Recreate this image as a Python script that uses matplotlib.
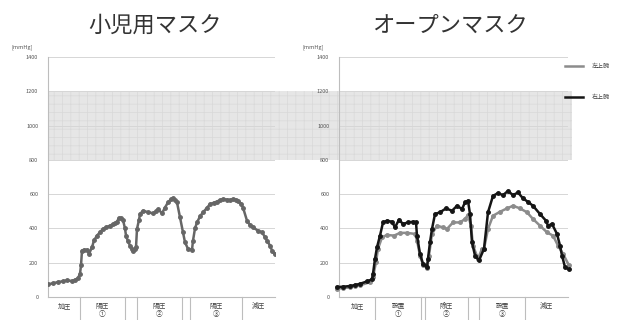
import matplotlib
matplotlib.use("Agg")
from matplotlib import pyplot as plt
from matplotlib.patches import Rectangle

plt.rcParams['font.family'] = ['Noto Sans CJK JP', 'DejaVu Sans']
plt.rcParams['hatch.linewidth'] = 0.5

# ---- data (time in arbitrary units, pressure in mmHg) ----
left_t = [0, 5, 10, 15, 19, 24, 27, 30, 32, 33, 34, 36, 39, 41, 44, 46, 49,
          52, 55, 58, 62, 65, 67, 69, 71, 73, 75, 77, 78, 80, 82, 84, 85, 87,
          88, 89, 91, 92, 95, 100, 105, 108, 110, 114, 117, 120, 123, 125,
          127, 129, 132, 135, 137, 140, 144, 145, 147, 149, 152, 155, 159,
          162, 166, 169, 172, 175, 179, 182, 185, 188, 190, 193, 195, 199,
          202, 205, 210, 214, 217, 219, 222, 224, 227]
left_p = [74, 80, 87, 92, 97, 93, 100, 110, 135, 184, 271, 275, 275, 252,
          290, 330, 358, 378, 397, 407, 416, 425, 430, 440, 461, 458, 449,
          400, 358, 325, 300, 280, 271, 280, 290, 397, 450, 484, 503, 495,
          488, 500, 513, 488, 522, 552, 570, 577, 565, 552, 465, 377, 319,
          281, 275, 329, 400, 435, 470, 494, 520, 542, 550, 557, 565, 571,
          568, 565, 571, 567, 561, 545, 522, 445, 420, 406, 387, 377, 350,
          329, 300, 271, 248]

right_t_black = [-2, 4, 11, 16, 21, 28, 33, 34, 36, 38, 41, 44, 48, 53, 56,
                 60, 64, 69, 74, 77, 78, 81, 84, 88, 89, 91, 93, 96, 101,
                 107, 113, 118, 123, 126, 129, 131, 133, 136, 140, 145, 149,
                 154, 159, 164, 169, 174, 179, 184, 189, 194, 201, 207, 209,
                 213, 218, 221, 223, 226, 230]
right_p_black = [58, 60, 64, 70, 77, 91, 103, 135, 223, 290, 358, 435, 445,
                 439, 406, 451, 426, 435, 439, 435, 358, 252, 194, 174, 223,
                 319, 397, 484, 494, 517, 503, 532, 513, 552, 561, 484, 319,
                 242, 213, 281, 494, 590, 606, 594, 619, 594, 610, 575, 555,
                 532, 484, 445, 416, 426, 368, 300, 242, 174, 161]

right_t_gray = [-2, 4, 11, 16, 21, 31, 34, 37, 39, 43, 48, 55, 61, 68, 76,
                78, 81, 84, 88, 90, 93, 98, 104, 108, 114, 121, 126, 129, 132,
                134, 139, 143, 145, 149, 154, 161, 168, 174, 181, 188, 194,
                201, 208, 214, 219, 224, 230]
right_p_gray = [48, 52, 56, 62, 68, 87, 116, 203, 281, 348, 362, 358, 374,
                374, 368, 329, 242, 188, 168, 242, 368, 416, 406, 397, 435,
                435, 455, 478, 416, 300, 223, 281, 281, 397, 474, 497, 517,
                532, 517, 494, 455, 416, 377, 358, 300, 252, 184]

left_cats = ['加圧', '陽圧\n①', '', '陽圧\n②', '', '陽圧\n③', '減圧']
left_edges = [0, 32, 77, 89, 134, 142, 194, 227]
right_cats = ['加圧', '設置\n①', '', '除圧\n②', '', '設置\n③', '減圧']
right_edges = [0, 36, 82, 86, 129, 140, 186, 229]
yticks = [0, 200, 400, 600, 800, 1000, 1200, 1400]

W, H = 621, 320
fig = plt.figure(figsize=(W / 100, H / 100), dpi=100)
fig.patch.set_facecolor('white')


def fx(px):
    return px / W


def fy(py):
    return 1 - py / H


bottom = fy(297)
height = fy(57) - fy(297)

# shaded band spanning both panels
bg = fig.add_axes([fx(48), bottom, fx(572) - fx(48), height])
bg.set_xlim(0, 1)
bg.set_ylim(0, 1400)
bg.axis('off')
bg.add_patch(Rectangle((0, 800), 1, 400, facecolor='#e6e6e6',
                       edgecolor='#d9d9d9', hatch='++', linewidth=0))


def panel(x0, x1, title, title_x, edges, cats):
    ax = fig.add_axes([fx(x0), bottom, fx(x1) - fx(x0), height])
    ax.set_facecolor('none')
    ax.set_xlim(edges[0], edges[-1])
    ax.set_ylim(0, 1400)
    ax.set_yticks(yticks)
    ax.set_yticklabels([str(v) for v in yticks], fontsize=4, color='#555555')
    ax.tick_params(axis='y', length=0, pad=7)
    ax.set_xticks([])
    for s in ['top', 'right']:
        ax.spines[s].set_visible(False)
    ax.spines['left'].set_color('#bdbdbd')
    ax.spines['bottom'].set_color('#bdbdbd')
    ax.spines['left'].set_linewidth(0.8)
    ax.spines['bottom'].set_linewidth(0.8)
    ax.grid(axis='y', color='#d6d6d6', linewidth=0.7)
    ax.set_axisbelow(True)
    # category boxes under the axis
    for e in edges[1:-1]:
        ax.plot([e, e], [0, -0.1], transform=ax.get_xaxis_transform(),
                color='#bdbdbd', linewidth=0.8, clip_on=False)
    for i, c in enumerate(cats):
        if not c:
            continue
        xm = (edges[i] + edges[i + 1]) / 2
        ax.text(xm, -0.02, c, transform=ax.get_xaxis_transform(),
                ha='center', va='top', fontsize=4.8, color='#444444',
                linespacing=1.0)
    fig.text(fx(title_x), fy(25), title, ha='center', va='center',
             fontsize=16, color='#333333')
    fig.text(fx(x0 - 26), fy(47), '[mmHg]', ha='center', va='center',
             fontsize=4, color='#555555')
    return ax


ax1 = panel(48, 275, '小児用マスク', 155, left_edges, left_cats)
ax1.plot(left_t, left_p, color='#666666', linewidth=1.8, marker='o',
         markersize=2.5, zorder=3)

ax2 = panel(339, 568, 'オープンマスク', 450, right_edges, right_cats)
ax2.plot(right_t_gray, right_p_gray, color='#8c8c8c', linewidth=1.8,
         marker='o', markersize=2.5, zorder=3, label='左上腕', clip_on=False)
ax2.plot(right_t_black, right_p_black, color='#151515', linewidth=1.8,
         marker='o', markersize=2.5, zorder=4, label='右上腕', clip_on=False)

# legend at the right edge
for py, col, lab in [(66, '#8c8c8c', '左上腕'), (97, '#151515', '右上腕')]:
    fig.add_artist(plt.Line2D([fx(565), fx(583)], [fy(py), fy(py)],
                              color=col, linewidth=1.8))
    fig.text(fx(592), fy(py), lab, ha='left', va='center', fontsize=4.3,
             color='#444444')

fig.savefig('out.png', dpi=100)
